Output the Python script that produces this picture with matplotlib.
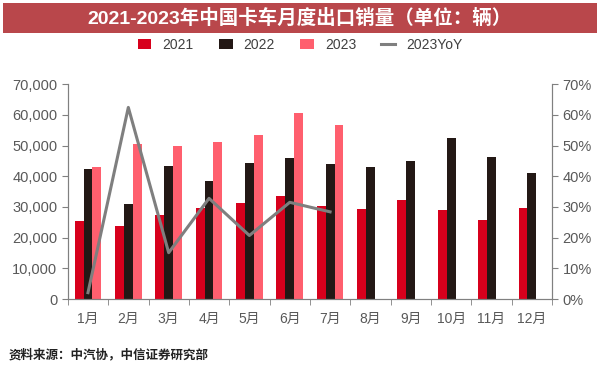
import numpy as np
import matplotlib
matplotlib.use('Agg')
from matplotlib import pyplot as plt
from matplotlib.patches import Rectangle
from matplotlib.ticker import FuncFormatter

plt.rcParams['font.family'] = ['Liberation Sans', 'Noto Sans CJK SC']

# data
months = ['1月', '2月', '3月', '4月', '5月', '6月', '7月', '8月', '9月', '10月', '11月', '12月']
sales_2021 = [25500, 23900, 27300, 29800, 31400, 33400, 30300, 29300, 32200, 28900, 25700, 29600]
sales_2022 = [42200, 30900, 43400, 38500, 44300, 46000, 44000, 43000, 44900, 52300, 46200, 41200]
sales_2023 = [42900, 50500, 50000, 51300, 53500, 60700, 56800]
yoy_2023 = [2.1, 62.4, 15.1, 32.8, 20.7, 31.5, 28.4]

c21, c22, c23, cline = '#D7001C', '#231815', '#FF5F6E', '#7F7F7F'
grey = '#595959'

fig = plt.figure(figsize=(6, 3.72), dpi=100)

# title banner
fig.patches.append(Rectangle((0.005, 0.91), 0.99, 0.083, transform=fig.transFigure,
                             facecolor='#B9474B', edgecolor='none'))
fig.text(0.5, 0.951, '2021-2023年中国卡车月度出口销量（单位：辆）', color='white',
         fontsize=14, fontweight='bold', ha='center', va='center')

ax = fig.add_axes([0.113, 0.196, 0.807, 0.578])
x = np.arange(len(months))
w = 0.22
ax.bar(x - w, sales_2021, w, color=c21, label='2021')
ax.bar(x, sales_2022, w, color=c22, label='2022')
ax.bar(np.arange(len(sales_2023)) + w, sales_2023, w, color=c23, label='2023')

ax.set_xlim(-0.5, len(months) - 0.5)
ax.set_ylim(0, 70000)
ax.set_yticks(np.arange(0, 70001, 10000))
ax.yaxis.set_major_formatter(FuncFormatter(lambda v, p: f'{int(v):,}'))
ax.set_xticks(x)
ax.set_xticklabels(months)
ax.set_xticks(np.arange(-0.5, len(months)), minor=True)
ax.tick_params(axis='x', which='major', length=0, pad=9, labelsize=10, labelcolor=grey)
ax.tick_params(axis='x', which='minor', length=4, color='#808080')
ax.tick_params(axis='y', length=4, color='#808080', labelsize=10.5, labelcolor=grey)

ax2 = ax.twinx()
ax2.plot(np.arange(len(yoy_2023)), yoy_2023, color=cline, lw=2.2, label='2023YoY')
ax2.set_ylim(0, 70)
ax2.set_yticks(np.arange(0, 71, 10))
ax2.yaxis.set_major_formatter(FuncFormatter(lambda v, p: f'{int(v)}%'))
ax2.tick_params(axis='y', length=4, color='#808080', labelsize=10.5, labelcolor=grey)

for a in (ax, ax2):
    a.spines['top'].set_visible(False)
    for s in ('left', 'right', 'bottom'):
        a.spines[s].set_color('#808080')

h1, l1 = ax.get_legend_handles_labels()
h2, l2 = ax2.get_legend_handles_labels()
fig.legend(h1 + h2, l1 + l2, loc='center', bbox_to_anchor=(0.5, 0.88), ncol=4,
           frameon=False, fontsize=10, handlelength=1.0, handleheight=0.7,
           columnspacing=1.8, labelcolor='#404040')

fig.text(0.015, 0.045, '资料来源：中汽协，中信证券研究部', fontsize=9, fontweight='bold',
         color='#222222', ha='left', va='center')

fig.savefig('out.png', dpi=100)
